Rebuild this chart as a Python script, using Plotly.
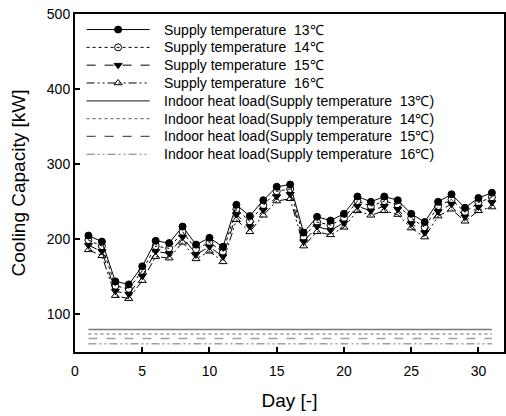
import plotly.graph_objects as go

# Daily cooling capacity by supply temperature (kW)
days = list(range(1, 32))
cap_13 = [205, 197, 144, 140, 164, 198, 195, 217, 193, 202, 190, 246, 231, 252, 270, 273,
          209, 230, 225, 234, 257, 250, 257, 252, 234, 223, 250, 260, 242, 255, 262]
cap_14 = [199, 191, 138, 134, 158, 191, 188, 210, 187, 196, 183, 240, 224, 245, 264, 267,
          203, 223, 219, 228, 251, 244, 251, 246, 228, 216, 244, 253, 236, 249, 256]
cap_15 = [192, 184, 131, 127, 151, 184, 181, 203, 180, 190, 177, 233, 217, 239, 257, 260,
          197, 217, 212, 222, 244, 238, 244, 240, 221, 209, 237, 247, 230, 243, 249]
cap_16 = [186, 178, 125, 121, 145, 177, 175, 196, 174, 184, 170, 226, 210, 232, 251, 254,
          191, 210, 206, 216, 238, 232, 238, 233, 215, 203, 231, 240, 224, 238, 243]

# Indoor heat load for each supply temperature (kW, constant over the month)
heat_load = [80, 74, 68, 61]
supply_temps = ["13", "14", "15", "16"]

cap_series = [cap_13, cap_14, cap_15, cap_16]
dashes = ["solid", "dot", "dash", "8px,3px,2px,3px,2px,3px"]
markers = [
    dict(symbol="circle", color="black", size=7, line=dict(color="black", width=1)),
    dict(symbol="circle-open", color="black", size=7, line=dict(color="black", width=1)),
    dict(symbol="triangle-down", color="black", size=7, line=dict(color="black", width=1)),
    dict(symbol="triangle-up-open", color="black", size=7, line=dict(color="black", width=1)),
]
load_colors = ["#7a7a7a", "#9a9a9a", "#a0a0a0", "#a0a0a0"]
load_key_colors = ["#444444", "#777777", "#555555", "#777777"]

FONT = "Liberation Sans, Arial, sans-serif"

fig = go.Figure()

for ys, dsh, mk in zip(cap_series, dashes, markers):
    fig.add_trace(go.Scatter(
        x=days, y=ys, mode="lines+markers", showlegend=False,
        line=dict(color="black", width=1, dash=dsh), marker=mk,
    ))

for hl, dsh, col in zip(heat_load, dashes, load_colors):
    fig.add_trace(go.Scatter(
        x=[days[0], days[-1]], y=[hl, hl], mode="lines", showlegend=False,
        line=dict(color=col, width=1.5, dash=dsh),
    ))

# Key box: drawn on a hidden overlay axis spanning the plot area (0..1)
key_x0, key_x1, text_x = 0.027, 0.174, 0.203
row_top, row_step = 0.954, 0.0527
labels = ([f"Supply temperature  {t}\u2103" for t in supply_temps] +
          [f"Indoor heat load(Supply temperature  {t}\u2103)" for t in supply_temps])
key_styles = ([dict(color="black", width=1, dash=d, mk=m) for d, m in zip(dashes, markers)] +
              [dict(color=c, width=1.2, dash=d, mk=None) for d, c in zip(dashes, load_key_colors)])

for i, (lab, st) in enumerate(zip(labels, key_styles)):
    ky = row_top - i * row_step
    fig.add_trace(go.Scatter(
        x=[key_x0, key_x1], y=[ky, ky], mode="lines", showlegend=False,
        xaxis="x2", yaxis="y2", hoverinfo="skip",
        line=dict(color=st["color"], width=st["width"], dash=st["dash"]),
    ))
    if st["mk"] is not None:
        fig.add_trace(go.Scatter(
            x=[(key_x0 + key_x1) / 2], y=[ky], mode="markers", showlegend=False,
            xaxis="x2", yaxis="y2", hoverinfo="skip", marker=st["mk"],
        ))
    fig.add_annotation(
        x=text_x, y=ky, xref="x2", yref="y2", text=lab, showarrow=False,
        xanchor="left", yanchor="middle",
        font=dict(family=FONT, size=14, color="black"),
    )

fig.update_layout(
    width=506, height=416,
    margin=dict(l=75, r=2, t=14, b=64),
    paper_bgcolor="white", plot_bgcolor="white",
    font=dict(family=FONT, size=14, color="black"),
    showlegend=False,
    xaxis=dict(
        range=[0, 31.9], tick0=0, dtick=5, automargin=False,
        showline=True, linecolor="black", linewidth=2, mirror=True,
        ticks="inside", ticklen=5, tickwidth=2, tickcolor="black",
        showgrid=False, zeroline=False,
        tickfont=dict(size=14), ticklabelstandoff=5,
        title=dict(text="Day [-]", font=dict(size=19), standoff=16),
    ),
    yaxis=dict(
        range=[50, 500], tick0=0, dtick=100, automargin=False,
        showline=True, linecolor="black", linewidth=2, mirror=True,
        ticks="inside", ticklen=5, tickwidth=2, tickcolor="black",
        showgrid=False, zeroline=False,
        tickfont=dict(size=14),
        title=dict(text="Cooling Capacity [kW]", font=dict(size=19), standoff=16),
    ),
    xaxis2=dict(overlaying="x", range=[0, 1], visible=False, fixedrange=True),
    yaxis2=dict(overlaying="y", range=[0, 1], visible=False, fixedrange=True),
)

fig.write_html("out.html")
